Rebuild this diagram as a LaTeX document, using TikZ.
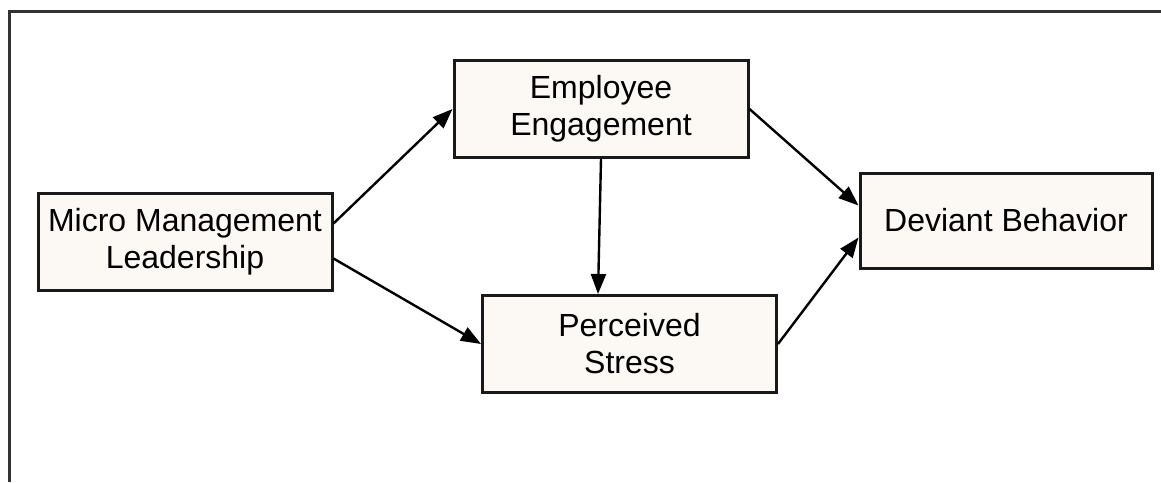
\documentclass[tikz,border=0pt]{standalone}
\usepackage{fontspec}
\setmainfont{Liberation Sans}
\usetikzlibrary{arrows.meta,calc}
\definecolor{boxfill}{HTML}{FCF9F4}
\tikzset{%
  factor/.style = {shape=rectangle, draw=black!90, line width=3pt,%
                   fill=boxfill, align=center, inner sep=0pt,%
                   minimum width=294pt, minimum height=97pt,%
                   font=\fontsize{32}{37}\selectfont},%
  link/.style   = {line width=2.4pt, -{Triangle[length=20pt,width=15pt]}},%
  frame/.style  = {line width=2.4pt, draw=black!80}%
}

\begin{document}
\begin{tikzpicture}[x=1pt,y=-1pt]
	\useasboundingbox (0,0) rectangle (1161,482);
	\draw [frame] (9.5,482) -- (9.5,11.5) -- (1161,11.5);
	% the four constructs
	\node [factor] (mml) at (185,241.5) {Micro Management\\Leadership};
	\node [factor] (ee) at (601,109) {Employee\\Engagement};
	\node [factor] (ps) at (629.5,344) {Perceived\\Stress};
	\node [factor,minimum width=292pt,minimum height=95pt] (db) at (1006,220.5) {Deviant Behavior};
	% paths
	\draw [link] ([yshift=18pt]mml.east) -- (ee.west);
	\draw [link] ([yshift=-17pt]mml.east) -- (ps.west);
	\draw [link] (ee.south) -- ($(ee.south |- ps.north)+(-3,0)$);
	\draw [link] (ee.east) -- ([yshift=15pt]db.west);
	\draw [link] (ps.east) -- ([yshift=-17pt]db.west);
\end{tikzpicture}
\end{document}
